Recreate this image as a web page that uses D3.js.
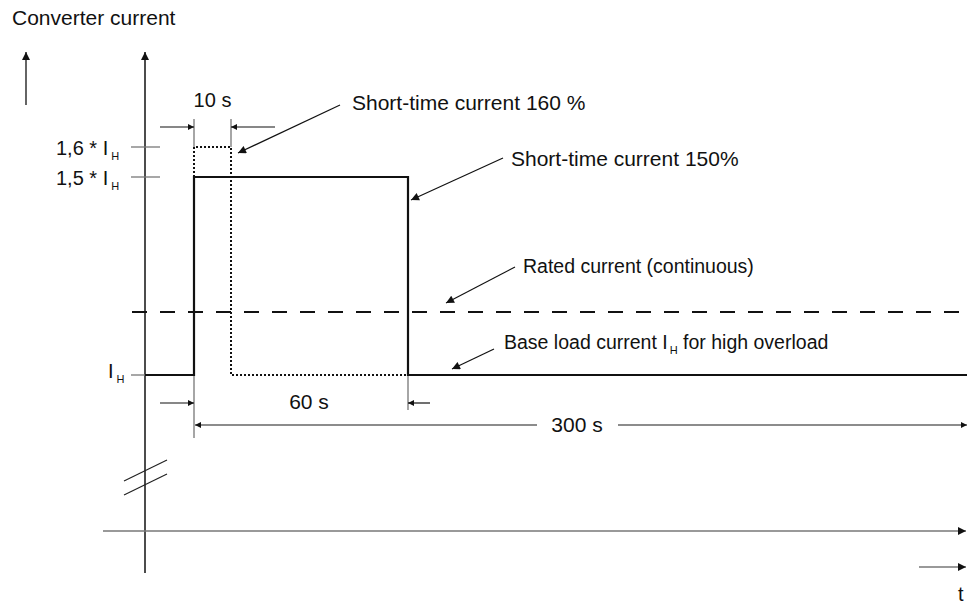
<!DOCTYPE html>
<html>
<head>
<meta charset="utf-8">
<script src="https://cdn.jsdelivr.net/npm/d3@7"></script>
<style>
  body { margin: 0; background: #fff; }
  text { font-family: "Liberation Sans", Arial, sans-serif; fill: #111; }
</style>
</head>
<body>
<div id="chart"></div>
<script>
// Time knots of the diagram (s) - the axis is not to scale, so the scale is piecewise
var timeKnots = [-13, 0, 10, 60, 300];
// Current levels as multiples of I_H (0 = time axis, 1.2 = rated current)
var currentLevels = [0, 1, 1.2, 1.5, 1.6];

// Load cycle 150 % for 60 s
var cycle150Time = [-13, 0, 0, 60, 60, 301];
var cycle150Current = [1, 1, 1.5, 1.5, 1, 1];

// Load cycle 160 % for 10 s
var cycle160Time = [0, 0, 10, 10, 60];
var cycle160Current = [1.5, 1.6, 1.6, 1, 1];

var ratedCurrent = 1.2;

// Y tick values and labels
var tickValues = [1.6, 1.5, 1];
var tickLabels = ["1,6 * I", "1,5 * I", "I"];

// Annotation texts
var noteTexts = ["Short-time current 160 %", "Short-time current 150%",
                 "Rated current (continuous)", "Base load current I"];

// Set SVG dimensions
var svgWidth = 967;
var svgHeight = 605;

var svg = d3.select("#chart")
    .append("svg")
    .attr("width", svgWidth)
    .attr("height", svgHeight);

// Arrow markers
var defs = svg.append("defs");
defs.append("marker")
    .attr("id", "head")
    .attr("viewBox", "0 0 10 10")
    .attr("refX", 10).attr("refY", 5)
    .attr("markerWidth", 10).attr("markerHeight", 8)
    .attr("markerUnits", "userSpaceOnUse")
    .attr("orient", "auto")
    .append("path").attr("d", "M0,0L10,5L0,10Z").attr("fill", "#111");
defs.append("marker")
    .attr("id", "small")
    .attr("viewBox", "0 0 10 10")
    .attr("refX", 10).attr("refY", 5)
    .attr("markerWidth", 9).attr("markerHeight", 6)
    .attr("markerUnits", "userSpaceOnUse")
    .attr("orient", "auto")
    .append("path").attr("d", "M0,0L10,5L0,10Z").attr("fill", "#111");

// Scales
var xScale = d3.scaleLinear()
    .domain(timeKnots)
    .range([145, 194, 231, 408, 965]);
var yScale = d3.scaleLinear()
    .domain(currentLevels)
    .range([531, 375, 312, 177, 147]);

var x0 = xScale(-13);

// Title
svg.append("text")
    .attr("x", 12).attr("y", 25)
    .style("font-size", "21px")
    .text("Converter current");

// Left free arrow
svg.append("line")
    .attr("x1", 26).attr("y1", 105).attr("x2", 26).attr("y2", 52)
    .attr("stroke", "#111").attr("stroke-width", 1.3)
    .attr("marker-end", "url(#head)");

// Vertical axis
svg.append("line")
    .attr("x1", x0).attr("y1", 573).attr("x2", x0).attr("y2", 52)
    .attr("stroke", "#111").attr("stroke-width", 1.5)
    .attr("marker-end", "url(#head)");

// Axis break
[481, 495].forEach(function (yy) {
    svg.append("line")
        .attr("x1", 124).attr("y1", yy).attr("x2", 167).attr("y2", yy - 21)
        .attr("stroke", "#222").attr("stroke-width", 1.2);
});

// Time axis
svg.append("line")
    .attr("x1", 103).attr("y1", yScale(0)).attr("x2", 966).attr("y2", yScale(0))
    .attr("stroke", "#777").attr("stroke-width", 1.5)
    .attr("marker-end", "url(#head)");
svg.append("line")
    .attr("x1", 919).attr("y1", 567).attr("x2", 966).attr("y2", 567)
    .attr("stroke", "#777").attr("stroke-width", 1.5)
    .attr("marker-end", "url(#head)");
svg.append("text")
    .attr("x", 958).attr("y", 601)
    .style("font-size", "20px")
    .text("t");

// Y ticks
tickValues.forEach(function (v, i) {
    svg.append("line")
        .attr("x1", 131).attr("x2", v === 1 ? x0 : 160)
        .attr("y1", yScale(v)).attr("y2", yScale(v))
        .attr("stroke", "#777").attr("stroke-width", 1.3);
    var t = svg.append("text")
        .attr("x", v === 1 ? 108 : 56)
        .attr("y", yScale(v) + (v === 1 ? 3 : 8))
        .style("font-size", "20px");
    t.append("tspan").text(tickLabels[i]);
    t.append("tspan").attr("dx", 3).attr("dy", 5).style("font-size", "11px").text("H");
});

// Rated current (dashed)
svg.append("line")
    .attr("x1", 132).attr("x2", 967)
    .attr("y1", yScale(ratedCurrent)).attr("y2", yScale(ratedCurrent))
    .attr("stroke", "#111").attr("stroke-width", 2)
    .attr("stroke-dasharray", "15,13");

// Dimension extension lines (grey)
var ext = [[0, 119, 147], [10, 119, 147], [0, 375, 438], [60, 375, 410]];
ext.forEach(function (e) {
    svg.append("line")
        .attr("x1", xScale(e[0])).attr("x2", xScale(e[0]))
        .attr("y1", e[1]).attr("y2", e[2])
        .attr("stroke", "#888").attr("stroke-width", 1.5);
});

var line = d3.line()
    .x(function (d) { return xScale(d[0]); })
    .y(function (d) { return yScale(d[1]); });

// 160 % cycle (dotted)
svg.append("path")
    .datum(d3.zip(cycle160Time, cycle160Current))
    .attr("d", line)
    .attr("fill", "none")
    .attr("stroke", "#111").attr("stroke-width", 2)
    .attr("stroke-dasharray", "2,2");

// 150 % cycle (solid)
svg.append("path")
    .datum(d3.zip(cycle150Time, cycle150Current))
    .attr("d", line)
    .attr("fill", "none")
    .attr("stroke", "#111").attr("stroke-width", 2.2);

// Dimension arrows
function arrow(x1, y1, x2, y2, marker) {
    svg.append("line")
        .attr("x1", x1).attr("y1", y1).attr("x2", x2).attr("y2", y2)
        .attr("stroke", "#111").attr("stroke-width", 1.2)
        .attr("marker-end", "url(#" + marker + ")");
}
// 10 s
arrow(160, 127, xScale(0), 127, "small");
arrow(275, 127, xScale(10), 127, "small");
svg.append("text").attr("x", (xScale(0) + xScale(10)) / 2).attr("y", 107)
    .attr("text-anchor", "middle").style("font-size", "20px").text("10 s");
// 60 s
arrow(160, 403, xScale(0), 403, "small");
arrow(430, 403, xScale(60), 403, "small");
svg.append("text").attr("x", 309).attr("y", 409)
    .attr("text-anchor", "middle").style("font-size", "21px").text("60 s");
// 300 s
svg.append("line")
    .attr("x1", 537).attr("y1", 425).attr("x2", xScale(0) + 1).attr("y2", 425)
    .attr("stroke", "#666").attr("stroke-width", 1.5)
    .attr("marker-end", "url(#small)");
svg.append("line")
    .attr("x1", 618).attr("y1", 425).attr("x2", xScale(300) + 2).attr("y2", 425)
    .attr("stroke", "#666").attr("stroke-width", 1.5)
    .attr("marker-end", "url(#small)");
svg.append("text").attr("x", 577).attr("y", 432)
    .attr("text-anchor", "middle").style("font-size", "21px").text("300 s");

// Annotations with leader arrows
var leaders = [
    { text: noteTexts[0], size: 21, tx: 352, ty: 110, x1: 340, y1: 105, x2: 238, y2: 153 },
    { text: noteTexts[1], size: 21, tx: 511, ty: 166, x1: 503, y1: 158, x2: 411, y2: 200 },
    { text: noteTexts[2], size: 19.5, tx: 523, ty: 273, x1: 515, y1: 267, x2: 446, y2: 303 },
    { text: noteTexts[3], size: 19.5, tx: 504, ty: 349, x1: 494, y1: 349, x2: 452, y2: 369 }
];
leaders.forEach(function (d, i) {
    arrow(d.x1, d.y1, d.x2, d.y2, "head");
    var t = svg.append("text").attr("x", d.tx).attr("y", d.ty)
        .style("font-size", d.size + "px");
    t.append("tspan").text(d.text);
    if (i === 3) {
        t.append("tspan").attr("dx", 2).attr("dy", 5).style("font-size", "11px").text("H");
        t.append("tspan").attr("dy", -5).text(" for high overload");
    }
});
</script>
</body>
</html>
